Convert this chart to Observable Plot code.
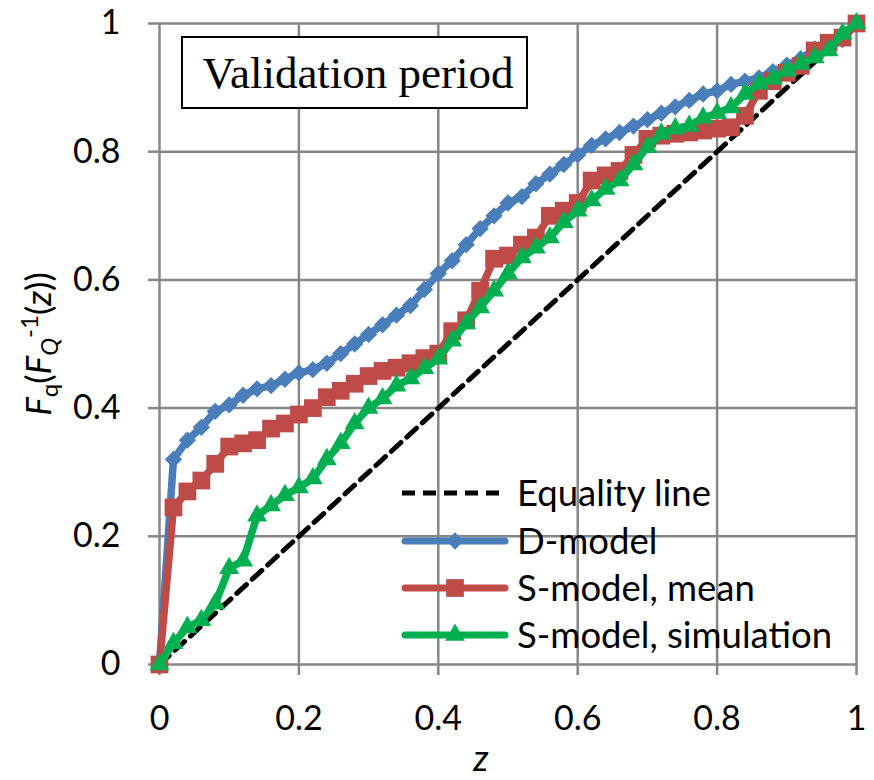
<!DOCTYPE html>
<html><head><meta charset="utf-8">
<script src="https://cdn.jsdelivr.net/npm/d3@7"></script>
<script src="https://cdn.jsdelivr.net/npm/@observablehq/plot@0.6"></script>
<style>body{margin:0;background:#fff}#chart{width:874px;height:780px}</style>
</head><body><div id="chart"></div>
<script>
const z = [0,0.02,0.04,0.06,0.08,0.10,0.12,0.14,0.16,0.18,0.20,0.22,0.24,0.26,0.28,0.30,0.32,0.34,0.36,0.38,0.40,0.42,0.44,0.46,0.48,0.50,0.52,0.54,0.56,0.58,0.60,0.62,0.64,0.66,0.68,0.70,0.72,0.74,0.76,0.78,0.80,0.82,0.84,0.86,0.88,0.90,0.92,0.94,0.96,0.98,1.00];
const dModel = [0,0.32,0.35,0.37,0.395,0.405,0.42,0.43,0.435,0.445,0.455,0.46,0.47,0.485,0.50,0.515,0.53,0.545,0.56,0.585,0.61,0.63,0.655,0.68,0.70,0.72,0.73,0.75,0.765,0.78,0.795,0.81,0.82,0.83,0.84,0.85,0.86,0.87,0.88,0.89,0.895,0.905,0.91,0.915,0.925,0.935,0.945,0.96,0.965,0.975,1.0];
const sMean = [0,0.245,0.27,0.287,0.313,0.34,0.345,0.35,0.368,0.376,0.39,0.40,0.417,0.427,0.438,0.45,0.458,0.463,0.47,0.478,0.485,0.52,0.537,0.583,0.633,0.638,0.655,0.666,0.70,0.708,0.72,0.755,0.763,0.77,0.795,0.82,0.825,0.828,0.83,0.833,0.836,0.838,0.856,0.895,0.91,0.923,0.934,0.958,0.97,0.978,1.0];
const sSim = [0,0.033,0.058,0.069,0.095,0.15,0.162,0.232,0.248,0.264,0.276,0.29,0.32,0.345,0.376,0.40,0.415,0.435,0.446,0.462,0.477,0.505,0.532,0.557,0.583,0.61,0.635,0.65,0.666,0.69,0.708,0.724,0.742,0.755,0.78,0.807,0.828,0.836,0.84,0.853,0.86,0.869,0.89,0.906,0.914,0.926,0.937,0.947,0.958,0.984,1.0];
const equality = [0, 1];
const xTicks = [0,0.2,0.4,0.6,0.8,1];
const yTicks = [0,0.2,0.4,0.6,0.8,1];
const seriesNames = ["Equality line","D-model","S-model, mean","S-model, simulation"];
const seriesColors = ["#000000","#4a7ebb","#be4b48","#00b050"];
const seriesSymbols = [null,"diamond2","square","triangle"];
const seriesR = [0,7.8,10,7.4];
const titleText = "Validation period";
const xLabel = "z";

const toRows = (vals) => z.map((zz, i) => ({z: zz, v: vals[i]}));
const eqRows = equality.map(v => ({z: v, v}));
const series = [dModel, sMean, sSim];
const fmt = d => String(+d.toFixed(1));
const gridStyle = {stroke: "#878787", strokeOpacity: 1, strokeWidth: 2.5};

const marks = [
  Plot.gridX(xTicks, gridStyle),
  Plot.gridY(yTicks, gridStyle),
  Plot.axisX(xTicks, {tickSize: 11, tickPadding: 30, tickFormat: fmt, label: null, stroke: "#878787", strokeWidth: 2.5, fill: "#000", fontSize: 34}),
  Plot.axisY(yTicks, {tickSize: 11, tickPadding: 28, tickFormat: fmt, label: null, stroke: "#878787", strokeWidth: 2.5, fill: "#000", fontSize: 34}),
  Plot.line(eqRows, {x: "z", y: "v", stroke: seriesColors[0], strokeWidth: 5, strokeDasharray: "13,8"})
];
series.forEach((vals, k) => {
  const i = k + 1;
  marks.push(Plot.line(toRows(vals), {x: "z", y: "v", stroke: seriesColors[i], strokeWidth: 7.5, strokeLinejoin: "round"}));
  marks.push(Plot.dot(toRows(vals), {x: "z", y: "v", symbol: seriesSymbols[i], r: seriesR[i], fill: seriesColors[i], stroke: "none"}));
});

const chart = Plot.plot({
  width: 874, height: 780,
  marginLeft: 159, marginRight: 18, marginTop: 23, marginBottom: 116,
  style: {fontFamily: "Lato", fontSize: "34px", color: "#000", background: "#fff"},
  x: {domain: [0, 1]},
  y: {domain: [0, 1]},
  marks
});
document.getElementById("chart").appendChild(chart);

const svg = d3.select(chart);
// title box
const tb = svg.append("g");
tb.append("rect").attr("x", 182).attr("y", 37).attr("width", 345).attr("height", 71)
  .attr("fill", "#fff").attr("stroke", "#000").attr("stroke-width", 2);
tb.append("text").attr("x", 358).attr("y", 88).attr("text-anchor", "middle")
  .attr("font-family", "Liberation Serif").attr("font-size", 45).attr("fill", "#000").text(titleText);

// x label
svg.append("text").attr("x", 481).attr("y", 771).attr("text-anchor", "middle")
  .attr("font-family", "Lato").attr("font-style", "italic").attr("font-size", 36).attr("fill", "#000").text(xLabel);

// y label
const yl = svg.append("text").attr("transform", "translate(51,344) rotate(-90)")
  .attr("text-anchor", "middle").attr("font-family", "Lato").attr("font-size", 35).attr("fill", "#000");
yl.append("tspan").attr("font-style", "italic").text("F");
yl.append("tspan").attr("font-size", 24).attr("dy", 7).text("q");
yl.append("tspan").attr("dy", -7).text("(");
yl.append("tspan").attr("font-style", "italic").text("F");
yl.append("tspan").attr("font-style", "italic").attr("font-size", 24).attr("dy", 7).text("Q");
yl.append("tspan").attr("font-size", 24).attr("dy", -20).text("-1");
yl.append("tspan").attr("dy", 13).text("(");
yl.append("tspan").attr("font-style", "italic").text("z");
yl.append("tspan").text("))");

// legend
const symMap = {diamond2: d3.symbolDiamond2, square: d3.symbolSquare, triangle: d3.symbolTriangle};
const lg = svg.append("g");
const rowY = [493, 541, 588, 635];
seriesNames.forEach((name, i) => {
  const y = rowY[i];
  const ln = lg.append("line").attr("x1", 405).attr("x2", 505).attr("y1", y).attr("y2", y)
    .attr("stroke", seriesColors[i]).attr("stroke-width", i === 0 ? 5 : 7);
  if (i === 0) ln.attr("stroke-dasharray", "13,8").attr("x1", 402).attr("x2", 507);
  else ln.attr("stroke-linecap", "round");
  if (seriesSymbols[i]) {
    const sym = d3.symbol(symMap[seriesSymbols[i]], Math.PI * seriesR[i] * seriesR[i]);
    lg.append("path").attr("d", sym()).attr("transform", `translate(455,${y})`).attr("fill", seriesColors[i]);
  }
  lg.append("text").attr("x", 517).attr("y", y).attr("dy", "0.36em").attr("text-anchor", "start")
    .attr("font-family", "Lato").attr("font-size", 36.5).attr("fill", "#000").text(name);
});
</script>
</body></html>
